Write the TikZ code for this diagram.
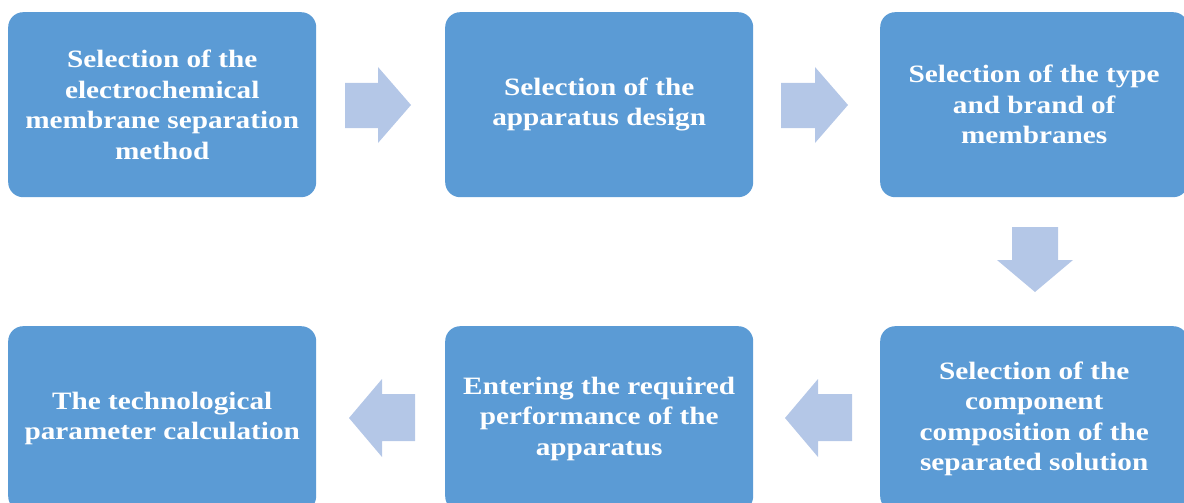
\documentclass[tikz,border=0pt]{standalone}
\usepackage{fontspec}
\setmainfont{Liberation Serif}[FakeStretch=1.17]
\begin{document}
\begin{tikzpicture}[x=1pt,y=-1pt,
  stepbox/.style={fill=boxblue, draw=none, rounded corners=15pt,
    minimum width=308pt, minimum height=185pt, anchor=north west,
    text=white, font=\fontsize{25}{30.5}\selectfont\bfseries,
    align=center, inner sep=0pt},
  flow/.style={fill=arrowblue, draw=none}]
\definecolor{boxblue}{HTML}{5B9BD5}
\definecolor{arrowblue}{HTML}{B4C7E7}
\useasboundingbox (0,0) rectangle (1184,503);
\clip (0,0) rectangle (1184,503);

% process steps
\node[stepbox] (s1) at (8,12) {Selection of the\\electrochemical\\membrane separation\\method};
\node[stepbox] (s2) at (445,12) {Selection of the\\apparatus design};
\node[stepbox] (s3) at (880,12) {Selection of the type\\and brand of\\membranes};
\node[stepbox] (s4) at (880,326) {Selection of the\\component\\composition of the\\separated solution};
\node[stepbox] (s5) at (445,326) {Entering the required\\performance of the\\apparatus};
\node[stepbox] (s6) at (8,326) {The technological\\parameter calculation};

% block arrows between steps
\fill[flow] (345,83) -- (378,83) -- (378,67) -- (411,105) -- (378,143) -- (378,128) -- (345,128) -- cycle;
\fill[flow] (781,83) -- (815,83) -- (815,67) -- (848,105) -- (815,143) -- (815,128) -- (781,128) -- cycle;
\fill[flow] (1012,227) -- (1058,227) -- (1058,260) -- (1073,260) -- (1035,292) -- (997,260) -- (1012,260) -- cycle;
\fill[flow] (852,394) -- (818,394) -- (818,379) -- (785,418) -- (818,457) -- (818,441) -- (852,441) -- cycle;
\fill[flow] (415,394) -- (382,394) -- (382,379) -- (349,418) -- (382,457) -- (382,441) -- (415,441) -- cycle;
\end{tikzpicture}
\end{document}
